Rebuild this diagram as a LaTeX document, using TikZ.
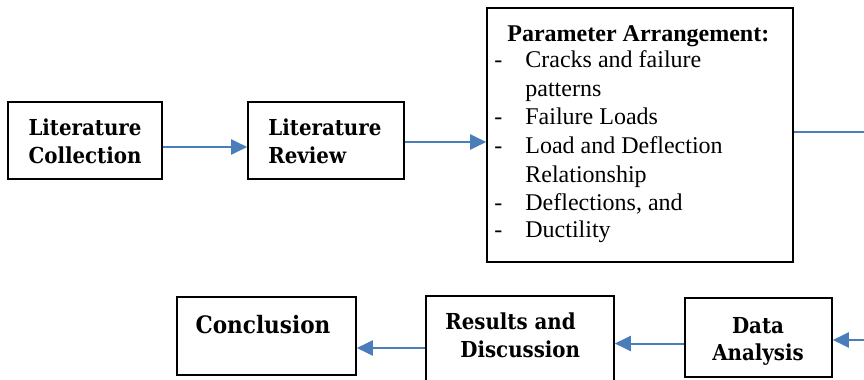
\documentclass[tikz,border=0pt]{standalone}
\usepackage{fontspec}
\setmainfont{Liberation Serif}
\newfontfamily\camfont{DejaVu Serif Condensed Bold}
\usetikzlibrary{arrows.meta,fit,calc}
\definecolor{arrowblue}{RGB}{74,126,187}
\begin{document}
\begin{tikzpicture}[x=0.5pt,y=-0.5pt,
  box/.style={draw=black, line width=0.8pt, inner sep=0pt},
  lbl/.style={inner sep=0pt, font=\camfont\fontsize{11}{13}\selectfont},
  big/.style={inner sep=0pt, font=\camfont\fontsize{12}{14}\selectfont},
  tr/.style={inner sep=0pt, font=\fontsize{12}{14}\selectfont},
  arr/.style={draw=arrowblue, line width=1pt, -{Triangle[length=8pt,width=7.5pt]}},
  conn/.style={draw=arrowblue, line width=1pt}]
\useasboundingbox (0,0) rectangle (864,380);

% boxes
\node[box, fit={(8,102) (162,179)}] (b1) {};
\node[box, fit={(248,102) (404,179)}] (b2) {};
\node[box, fit={(487,8) (793,262)}] (b3) {};
\node[box, fit={(177,297) (356,375)}] (b4) {};
\node[box, fit={(426,296) (614,390)}] (b5) {};
\node[box, fit={(685,298) (832,377)}] (b6) {};

% texts
\node[lbl, anchor=base] (t1a) at (85,135) {Literature};
\node[lbl, anchor=base] (t1b) at (85,163) {Collection};
\node[lbl, anchor=base west] (t2a) at (268,135) {Literature};
\node[lbl, anchor=base west] (t2b) at (268,163) {Review};

\node[tr, anchor=base west, font=\fontsize{12}{14}\selectfont\bfseries] (t3) at (507,41) {Parameter Arrangement:};
\node[tr, anchor=base west] (d1) at (494,68) {-};
\node[tr, anchor=base west] (p1) at (525,68) {Cracks and failure};
\node[tr, anchor=base west] (p1b) at (525,97) {patterns};
\node[tr, anchor=base west] (d2) at (494,125) {-};
\node[tr, anchor=base west] (p2) at (525,125) {Failure Loads};
\node[tr, anchor=base west] (d3) at (494,154) {-};
\node[tr, anchor=base west] (p3) at (525,154) {Load and Deflection};
\node[tr, anchor=base west] (p3b) at (525,182) {Relationship};
\node[tr, anchor=base west] (d4) at (494,210) {-};
\node[tr, anchor=base west] (p4) at (525,210) {Deflections, and};
\node[tr, anchor=base west] (d5) at (494,237) {-};
\node[tr, anchor=base west] (p5) at (525,237) {Ductility};

\node[big, anchor=base] (t4) at (263,333) {Conclusion};
\node[lbl, anchor=base west] (t5a) at (445,329) {Results and};
\node[lbl, anchor=base west] (t5b) at (460,357) {Discussion};
\node[lbl, anchor=base] (t6a) at (758,333) {Data};
\node[lbl, anchor=base] (t6b) at (758,360) {Analysis};

% connectors
\coordinate (r1) at (864,132);
\coordinate (r2) at (864,340);
\draw[arr] ([yshift=-3.25pt]b1.east) -- ([yshift=-3.25pt]b1.east -| b2.west);
\draw[arr] ([yshift=-0.75pt]b2.east) -- ([yshift=-0.75pt]b2.east -| b3.west);
\draw[conn] (r1 -| b3.east) -- (r1);
\draw[arr] (r2) -- (r2 -| b6.east);
\draw[arr] ([yshift=-3pt]b6.west) -- ([yshift=-3pt]b6.west -| b5.east);
\draw[arr] ([yshift=-2.5pt]b5.west) -- ([yshift=-2.5pt]b5.west -| b4.east);
\end{tikzpicture}
\end{document}
